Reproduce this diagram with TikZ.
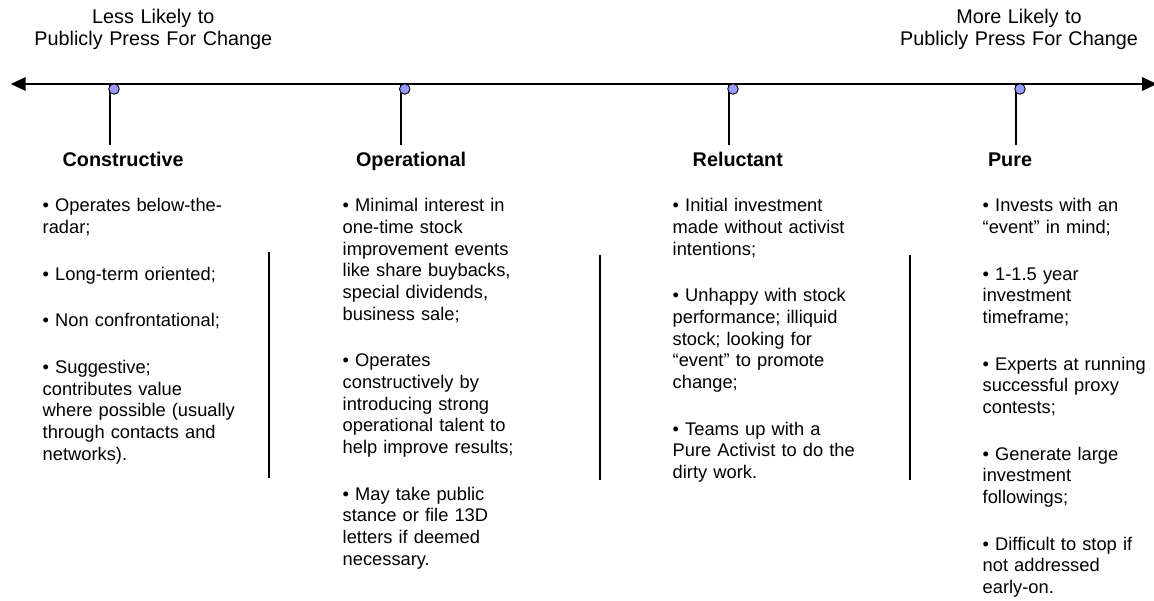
\documentclass[tikz,border=0pt]{standalone}
\usepackage{fontspec}
\setmainfont{Liberation Sans}
\usepackage{xcolor}
\usetikzlibrary{arrows.meta,positioning}
\definecolor{dotblue}{HTML}{9999FF}

\begin{document}
\begin{tikzpicture}[x=1pt, y=-1pt,
    every node/.style={inner sep=0pt, outer sep=0pt},
    toplabel/.style={text width=260pt, align=center, anchor=base, font={\fontsize{19.8pt}{21.7pt}\selectfont}},
    heading/.style={anchor=base west, font={\bfseries\fontsize{19.8pt}{21.7pt}\selectfont}},
    bullets/.style={text width=200pt, align=left, anchor=base west, font={\fontsize{18.3pt}{21.67pt}\selectfont}},
    marker/.style={circle, draw=black, line width=0.9pt, fill=dotblue, minimum size=10.5pt},
    axisline/.style={line width=1.7pt},
    divider/.style={line width=1.3pt}]
    \useasboundingbox (0,0) rectangle (1154,600);

    % scale labels
    \node[toplabel] (lessLikely) at (153.3,23.3) {Less Likely to\\Publicly Press For Change};
    \node[toplabel] (moreLikely) at (1019,23.3) {More Likely to\\Publicly Press For Change};

    % axis
    \coordinate (axisL) at (10.7,84);
    \coordinate (axisR) at (1157,84);
    \draw[axisline, {Triangle[length=15pt,width=13.5pt]}-{Triangle[length=15pt,width=13.5pt]}] (axisL) -- (axisR);

    \foreach \name/\sx in {constr/110, oper/400.7, reluct/729, pure/1016} {
        \coordinate (\name top) at (\sx,84);
        \coordinate (\name foot) at (\sx,145);
        \draw[axisline] (\name top) -- (\name foot);
        \node[marker] (\name dot) at (\sx+4,89) {};
    }

    % headings
    \node[heading] (constructive) at (62.7,166.7) {Constructive};
    \node[heading] (operational) at (356,166.7) {Operational};
    \node[heading] (reluctant) at (692.7,166.7) {Reluctant};
    \node[heading] (pure) at (988,166.7) {Pure};

    % columns
    \node[bullets] (constrText) at (42.7,211.7) {• Operates below-the-\\radar;\\[25pt]• Long-term oriented;\\[25pt]• Non confrontational;\\[25pt]• Suggestive;\\contributes value\\where possible (usually\\through contacts and\\networks).};
    \node[bullets] (operText) at (342.7,211.7) {• Minimal interest in\\one-time stock\\improvement events\\like share buybacks,\\special dividends,\\business sale;\\[25pt]• Operates\\constructively by\\introducing strong\\operational talent to\\help improve results;\\[25pt]• May take public\\stance or file 13D\\letters if deemed\\necessary.};
    \node[bullets] (reluctText) at (672.7,211.7) {• Initial investment\\made without activist\\intentions;\\[25pt]• Unhappy with stock\\performance; illiquid\\stock; looking for\\“event” to promote\\change;\\[25pt]• Teams up with a\\Pure Activist to do the\\dirty work.};
    \node[bullets] (pureText) at (982.7,211.7) {• Invests with an\\“event” in mind;\\[25pt]• 1-1.5 year\\investment\\timeframe;\\[25pt]• Experts at running\\successful proxy\\contests;\\[25pt]• Generate large\\investment\\followings;\\[25pt]• Difficult to stop if\\not addressed\\early-on.};

    % dividers
    \coordinate (sepA top) at (269,252);
    \coordinate (sepA foot) at (269,478);
    \coordinate (sepB top) at (600,255);
    \coordinate (sepB foot) at (600,480);
    \coordinate (sepC top) at (910,255);
    \coordinate (sepC foot) at (910,480);
    \draw[divider] (sepA top) -- (sepA foot);
    \draw[divider] (sepB top) -- (sepB foot);
    \draw[divider] (sepC top) -- (sepC foot);
\end{tikzpicture}
\end{document}
